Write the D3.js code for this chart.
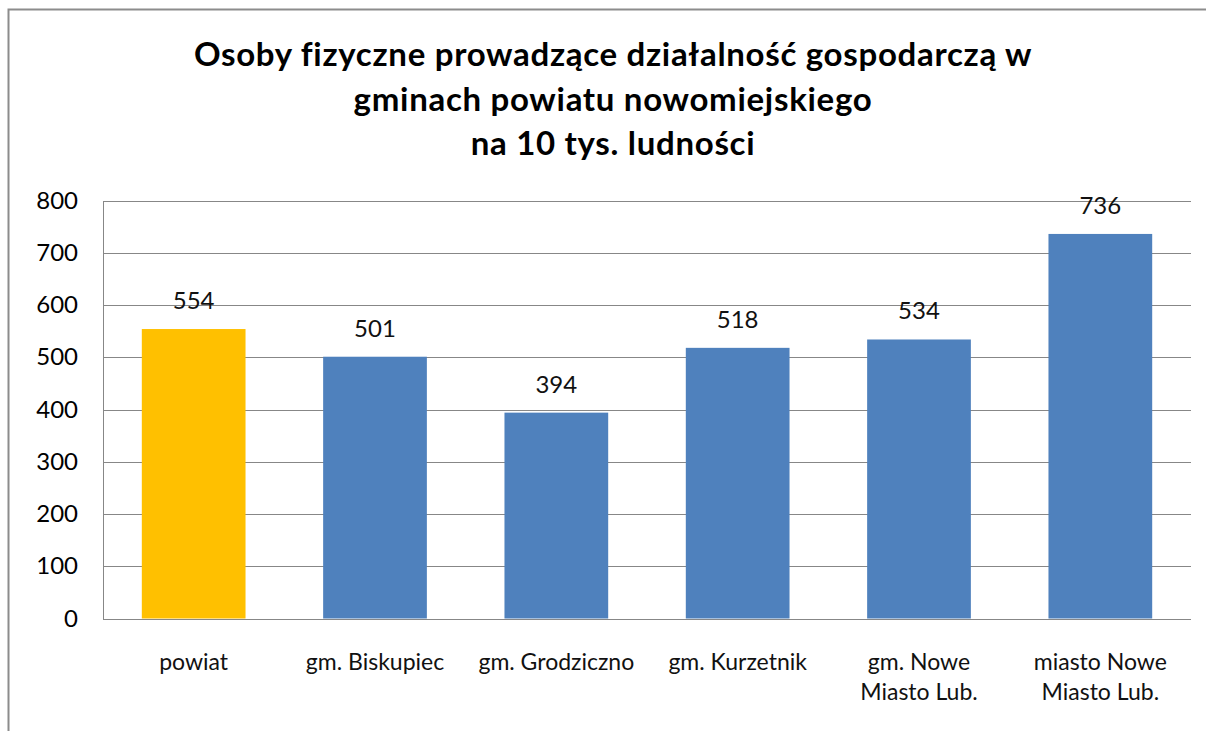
<!DOCTYPE html>
<html>
<head>
<meta charset="utf-8">
<script src="https://cdn.jsdelivr.net/npm/d3@7"></script>
<style>
	body { margin: 0; background: #fff; }
	text { font-family: Lato, "Open Sans", sans-serif; fill: #000; }
</style>
</head>
<body>
<div id="chart"></div>
<script>
var categories = ["powiat", "gm. Biskupiec", "gm. Grodziczno", "gm. Kurzetnik", "gm. Nowe|Miasto Lub.", "miasto Nowe|Miasto Lub."];
var values = [554, 501, 394, 518, 534, 736];
var barColors = ["#FFC000", "#4F81BD", "#4F81BD", "#4F81BD", "#4F81BD", "#4F81BD"];
var yTicks = [0, 100, 200, 300, 400, 500, 600, 700, 800];
var titleLines = ["Osoby fizyczne prowadzące działalność gospodarczą w", "gminach powiatu nowomiejskiego", "na 10 tys. ludności"];

var W = 1206, H = 731;
var plot = { left: 103, right: 1191, top: 200.5, bottom: 618.5 };

var svg = d3.select("#chart")
	.append("svg")
	.attr("width", W)
	.attr("height", H);

// outer frame (left + top only visible)
svg.append("path")
	.attr("d", "M8.5," + H + "V9.5H" + W)
	.attr("fill", "none")
	.attr("stroke", "#8c8c8c")
	.attr("stroke-width", 2);

// title
svg.append("g").selectAll("text")
	.data(titleLines)
	.enter()
	.append("text")
	.attr("x", 613)
	.attr("y", function(d, i) { return 66 + i * 44.5; })
	.attr("text-anchor", "middle")
	.style("font-size", "33px")
	.style("letter-spacing", "0.7px")
	.style("font-weight", "bold")
	.text(function(d) { return d; });

var x = d3.scaleBand()
	.domain(categories)
	.range([plot.left, plot.right])
	.paddingInner(0.428)
	.paddingOuter(0.214);

var y = d3.scaleLinear()
	.domain([0, 800])
	.range([plot.bottom, plot.top]);

// gridlines
svg.append("g").selectAll("line")
	.data(yTicks)
	.enter()
	.append("line")
	.attr("x1", plot.left)
	.attr("x2", plot.right)
	.attr("y1", function(d) { return Math.round(y(d)) + 0.5; })
	.attr("y2", function(d) { return Math.round(y(d)) + 0.5; })
	.attr("stroke", "#878787")
	.attr("stroke-width", 1);

// y axis
var yAxis = svg.append("g")
	.attr("transform", "translate(" + plot.left + ",0)")
	.call(d3.axisLeft(y).tickValues(yTicks).tickSize(0).tickPadding(25));
yAxis.select(".domain").attr("stroke", "#878787");
yAxis.selectAll("text")
	.style("font-size", "24px")
	.style("font-family", "Lato, sans-serif")
	.attr("fill", "#111");

// bars
svg.append("g").selectAll("rect")
	.data(values)
	.enter()
	.append("rect")
	.attr("x", function(d, i) { return x(categories[i]); })
	.attr("y", function(d) { return y(d); })
	.attr("width", x.bandwidth())
	.attr("height", function(d) { return y(0) - y(d); })
	.attr("fill", function(d, i) { return barColors[i]; });

// value labels
svg.append("g").selectAll("text")
	.data(values)
	.enter()
	.append("text")
	.attr("x", function(d, i) { return x(categories[i]) + x.bandwidth() / 2; })
	.attr("y", function(d) { return y(d) - 20; })
	.attr("text-anchor", "middle")
	.style("font-size", "24px")
	.style("fill", "#111")
	.text(function(d) { return d; });

// category labels
var cat = svg.append("g").selectAll("text")
	.data(categories)
	.enter()
	.append("text")
	.attr("text-anchor", "middle")
	.attr("x", function(d) { return x(d) + x.bandwidth() / 2; })
	.attr("y", 670)
	.style("font-size", "23px")
	.style("fill", "#111");
cat.selectAll("tspan")
	.data(function(d) { return d.split("|"); })
	.enter()
	.append("tspan")
	.attr("x", function() { var p = this.parentNode; return p.getAttribute("x"); })
	.attr("dy", function(d, i) { return i === 0 ? 0 : 30; })
	.text(function(d) { return d; });
</script>
</body>
</html>
